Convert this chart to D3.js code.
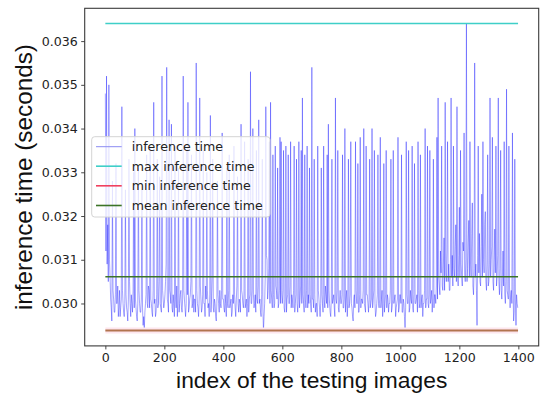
<!DOCTYPE html>
<html>
<head>
<meta charset="utf-8">
<script src="https://cdn.jsdelivr.net/npm/d3@7/dist/d3.min.js"></script>
<style>
  html, body { margin: 0; padding: 0; background: #fff; }
  svg { display: block; }
</style>
</head>
<body>
<svg id="chart" width="550" height="397"></svg>
<script>
// ---- data ----
const indexStep = 2; // one sample per 2 testing images
const inferenceTime = [
  0.0348,0.0312,0.0352,0.0309,0.0318,0.0305,0.0350,0.0310,0.0306,0.0301,0.0299,0.0296,0.0328,0.0303,0.0301,0.0298,0.0298,0.0302,0.0332,0.0300,0.0300,0.0304,0.0297,0.0299,0.0303,0.0297,0.0299,0.0301,0.0345,0.0303,0.0300,0.0298,0.0297,0.0300,0.0326,0.0302,0.0299,0.0298,0.0296,0.0301,0.0333,0.0305,0.0300,0.0297,0.0302,0.0300,0.0298,0.0303,0.0330,0.0299,
  0.0340,0.0301,0.0299,0.0297,0.0296,0.0300,0.0331,0.0303,0.0300,0.0298,0.0298,0.0301,0.0326,0.0299,0.0295,0.0297,0.0294,0.0298,0.0300,0.0302,0.0334,0.0300,0.0299,0.0304,0.0303,0.0299,0.0336,0.0301,0.0300,0.0298,0.0297,0.0303,0.0346,0.0300,0.0301,0.0297,0.0298,0.0302,0.0333,0.0299,0.0300,0.0305,0.0329,0.0300,0.0299,0.0298,0.0352,0.0303,0.0301,0.0299,
  0.0300,0.0302,0.0305,0.0309,0.0354,0.0301,0.0300,0.0298,0.0342,0.0303,0.0302,0.0300,0.0341,0.0299,0.0298,0.0302,0.0300,0.0297,0.0336,0.0301,0.0299,0.0304,0.0297,0.0300,0.0331,0.0298,0.0300,0.0302,0.0303,0.0299,0.0298,0.0301,0.0352,0.0303,0.0301,0.0299,0.0297,0.0300,0.0335,0.0302,0.0346,0.0298,0.0299,0.0301,0.0302,0.0305,0.0334,0.0299,0.0300,0.0302,
  0.0298,0.0301,0.0301,0.0298,0.0355,0.0303,0.0300,0.0299,0.0297,0.0301,0.0347,0.0304,0.0301,0.0298,0.0299,0.0302,0.0335,0.0300,0.0300,0.0297,0.0304,0.0301,0.0330,0.0303,0.0299,0.0300,0.0297,0.0302,0.0343,0.0298,0.0301,0.0306,0.0333,0.0299,0.0298,0.0301,0.0300,0.0297,0.0296,0.0300,0.0328,0.0302,0.0300,0.0298,0.0303,0.0300,0.0299,0.0303,0.0339,0.0301,
  0.0301,0.0299,0.0298,0.0302,0.0300,0.0297,0.0331,0.0300,0.0299,0.0303,0.0334,0.0299,0.0300,0.0301,0.0297,0.0298,0.0302,0.0300,0.0336,0.0302,0.0299,0.0297,0.0301,0.0304,0.0329,0.0300,0.0298,0.0301,0.0300,0.0298,0.0341,0.0303,0.0302,0.0300,0.0299,0.0302,0.0337,0.0299,0.0300,0.0301,0.0297,0.0300,0.0333,0.0298,0.0301,0.0302,0.0353,0.0300,0.0300,0.0303,
  0.0340,0.0302,0.0299,0.0300,0.0302,0.0298,0.0335,0.0301,0.0300,0.0304,0.0342,0.0300,0.0301,0.0298,0.0297,0.0302,0.0333,0.0299,0.02938,0.0297,0.0300,0.0306,0.0345,0.0311,0.0310,0.0301,0.0303,0.0308,0.0337,0.0300,0.0346,0.0303,0.0301,0.0299,0.0334,0.0302,0.0299,0.0300,0.0336,0.0304,0.0303,0.0301,0.0331,0.0299,0.0300,0.0303,0.0338,0.0300,0.0337,0.0302,
  0.0300,0.0303,0.0335,0.0299,0.0298,0.0301,0.0336,0.0298,0.0301,0.0302,0.0334,0.0300,0.0300,0.0304,0.0337,0.0299,0.0302,0.0301,0.0299,0.0303,0.0336,0.0298,0.0300,0.0302,0.0333,0.0300,0.0298,0.0301,0.0337,0.0299,0.0301,0.0304,0.0335,0.0300,0.0347,0.0302,0.0300,0.0298,0.0334,0.0301,0.0299,0.0303,0.0336,0.0299,0.0302,0.0300,0.0331,0.0302,0.0300,0.0298,
  0.0354,0.0301,0.0301,0.0299,0.0333,0.0302,0.0298,0.0300,0.0300,0.0297,0.0336,0.0303,0.0301,0.0299,0.0297,0.0300,0.0331,0.0302,0.0300,0.0298,0.0336,0.0301,0.0299,0.0304,0.0302,0.0300,0.0334,0.0299,0.0341,0.0303,0.0300,0.0298,0.0297,0.0301,0.0333,0.0300,0.0301,0.0302,0.0299,0.0297,0.0347,0.0301,0.0300,0.0303,0.0335,0.0299,0.0298,0.0301,0.0303,0.0300,
  0.0300,0.0302,0.0334,0.0299,0.0299,0.0301,0.0340,0.0298,0.0301,0.0303,0.0297,0.0300,0.0333,0.0299,0.0300,0.0302,0.0337,0.0300,0.0299,0.0297,0.0296,0.0301,0.0302,0.0299,0.0337,0.0303,0.0300,0.0300,0.0332,0.0298,0.0298,0.0302,0.0338,0.0299,0.0301,0.0301,0.0300,0.0303,0.0340,0.0300,0.0299,0.0298,0.0336,0.0302,0.0302,0.0300,0.0298,0.0301,0.0333,0.0299,
  0.0300,0.0301,0.0340,0.0299,0.0301,0.0303,0.0335,0.0300,0.0297,0.0298,0.0300,0.0302,0.0334,0.0300,0.0299,0.0301,0.0338,0.0299,0.0301,0.0303,0.0297,0.0300,0.0332,0.0298,0.0300,0.0302,0.0335,0.0299,0.0302,0.0301,0.0298,0.0300,0.0300,0.0303,0.0333,0.0298,0.0299,0.0301,0.0335,0.0300,0.0301,0.0302,0.0297,0.0299,0.0300,0.0301,0.0338,0.0298,0.0299,0.0302,
  0.0302,0.0300,0.0334,0.0298,0.0298,0.0301,0.0300,0.0297,0.0294,0.0299,0.0337,0.0302,0.0300,0.0300,0.0335,0.0298,0.0299,0.0303,0.0301,0.0300,0.0336,0.0299,0.0298,0.0302,0.0332,0.0300,0.0300,0.0301,0.0302,0.0298,0.0337,0.0303,0.0299,0.0300,0.0334,0.0299,0.0301,0.0302,0.0297,0.0300,0.0300,0.0303,0.0340,0.0299,0.0301,0.0301,0.0336,0.0300,0.0299,0.0302,
  0.0335,0.0300,0.0301,0.0303,0.0298,0.0301,0.0333,0.0299,0.0302,0.0302,0.0300,0.0304,0.0338,0.0301,0.0347,0.0306,0.0304,0.0302,0.0312,0.0307,0.0336,0.0304,0.0303,0.0309,0.0315,0.0303,0.0346,0.0307,0.0305,0.0312,0.0337,0.0305,0.0309,0.0303,0.0303,0.0310,0.0347,0.0306,0.0311,0.0304,0.0336,0.0308,0.0306,0.0313,0.0318,0.0305,0.0345,0.0307,0.0304,0.0311,
  0.0322,0.0306,0.0335,0.0309,0.0306,0.0304,0.0314,0.0312,0.0339,0.0307,0.0305,0.0310,0.0364,0.0305,0.0308,0.0314,0.0319,0.0306,0.0337,0.0309,0.0306,0.0316,0.0323,0.0304,0.0302,0.0308,0.0355,0.0306,0.0309,0.0303,0.0295,0.0311,0.0336,0.0307,0.0316,0.0305,0.0304,0.0313,0.0325,0.0306,0.0337,0.0310,0.0307,0.0318,0.0321,0.0305,0.0303,0.0309,0.0334,0.0304,
  0.0305,0.0309,0.0347,0.0306,0.0310,0.0313,0.0338,0.0305,0.0303,0.0310,0.0317,0.0307,0.0336,0.0304,0.0306,0.0311,0.0347,0.0305,0.0302,0.0308,0.0335,0.0303,0.0301,0.0306,0.0312,0.0304,0.0337,0.0302,0.0300,0.0305,0.0349,0.0303,0.0302,0.0301,0.0336,0.0304,0.0299,0.0302,0.0303,0.0300,0.0339,0.0303,0.0296,0.0298,0.0333,0.0301,0.0295,0.0302,0.0300,0.0299
];
const maxTime = 0.0364;
const minTime = 0.02938;
const meanTime = 0.03061;
const lastIndex = 1399;
const xTicks = [0, 200, 400, 600, 800, 1000, 1200, 1400];
const yTicks = [0.030, 0.031, 0.032, 0.033, 0.034, 0.035, 0.036];
const legendLabels = ["inference time", "max inference time", "min inference time", "mean inference time"];
const legendColors = ["#8c8cf2", "#3fcfc8", "#f0405e", "#3c7428"];

// ---- layout ----
const svg = d3.select("#chart");
const L = 84.7, R = 538.7, T = 8.3, B = 345.9;

const x = d3.scaleLinear().domain([-70, 1469]).range([L, R]);
const y = d3.scaleLinear().domain([0.02903, 0.03675]).range([B, T]);

svg.append("rect").attr("width", 550).attr("height", 397).attr("fill", "#fff");

svg.append("clipPath").attr("id", "clip")
  .append("rect").attr("x", L).attr("y", T).attr("width", R - L).attr("height", B - T);

const plot = svg.append("g").attr("clip-path", "url(#clip)");

// inference time series (segments so overlaps darken like alpha blending)
const pts = inferenceTime.map((v, i) => [i * indexStep, v]);
plot.append("g").selectAll("line")
  .data(d3.pairs(pts))
  .join("line")
  .attr("x1", d => x(d[0][0])).attr("y1", d => y(d[0][1]))
  .attr("x2", d => x(d[1][0])).attr("y2", d => y(d[1][1]))
  .attr("stroke", "#1a1aff")
  .attr("stroke-opacity", 0.42)
  .attr("stroke-width", 0.95);

// reference lines
function hline(val, color, w) {
  plot.append("line")
    .attr("x1", x(0)).attr("x2", x(lastIndex))
    .attr("y1", y(val)).attr("y2", y(val))
    .attr("stroke", color).attr("stroke-width", w);
}
hline(minTime, "#fde6ee", 6);
hline(maxTime, "#3fcfc8", 1.5);
hline(minTime, "#b2744f", 2);
hline(meanTime, "#3c7428", 1.5);

// frame
svg.append("rect")
  .attr("x", L).attr("y", T).attr("width", R - L).attr("height", B - T)
  .attr("fill", "none").attr("stroke", "#3a3a3a").attr("stroke-width", 1.1);

// axes
const xAxis = d3.axisBottom(x).tickValues(xTicks).tickFormat(d3.format("d")).tickSize(3.5).tickPadding(3.5);
const yAxis = d3.axisLeft(y).tickValues(yTicks).tickFormat(d3.format(".3f")).tickSize(3.5).tickPadding(3.5);

const gx = svg.append("g").attr("transform", `translate(0,${B})`).call(xAxis);
const gy = svg.append("g").attr("transform", `translate(${L},0)`).call(yAxis);
[gx, gy].forEach(g => {
  g.select(".domain").remove();
  g.selectAll(".tick line").attr("stroke", "#333").attr("stroke-width", 0.9);
  g.selectAll(".tick text")
    .attr("fill", "#222")
    .style("font-family", "'DejaVu Sans', sans-serif")
    .style("font-size", "12.6px");
});

// axis titles
svg.append("text")
  .attr("x", (L + R) / 2).attr("y", 387.5)
  .attr("text-anchor", "middle")
  .style("font-family", "'Liberation Sans', Arial, sans-serif")
  .style("font-size", "22.8px")
  .attr("fill", "#111")
  .text("index of the testing images");

svg.append("text")
  .attr("transform", `translate(32,${(T + B) / 2}) rotate(-90)`)
  .attr("text-anchor", "middle")
  .style("font-family", "'Liberation Sans', Arial, sans-serif")
  .style("font-size", "24.3px")
  .attr("fill", "#111")
  .text("inference time (seconds)");

// legend
const lg = svg.append("g");
lg.append("rect")
  .attr("x", 91.7).attr("y", 136.7).attr("width", 178.3).attr("height", 80.3)
  .attr("rx", 3).attr("fill", "#fff").attr("fill-opacity", 0.8)
  .attr("stroke", "#d4d4d4").attr("stroke-width", 1);
const rowY = [146.7, 166.2, 185.8, 205.5];
legendLabels.forEach((lab, i) => {
  lg.append("line")
    .attr("x1", 96).attr("x2", 121.7)
    .attr("y1", rowY[i]).attr("y2", rowY[i])
    .attr("stroke", legendColors[i]).attr("stroke-width", i === 0 ? 1 : 1.6);
  lg.append("text")
    .attr("x", 131.7).attr("y", rowY[i])
    .attr("dy", "0.36em")
    .style("font-family", "'DejaVu Sans', sans-serif")
    .style("font-size", "12.6px")
    .attr("fill", "#222")
    .text(lab);
});
</script>
</body>
</html>
